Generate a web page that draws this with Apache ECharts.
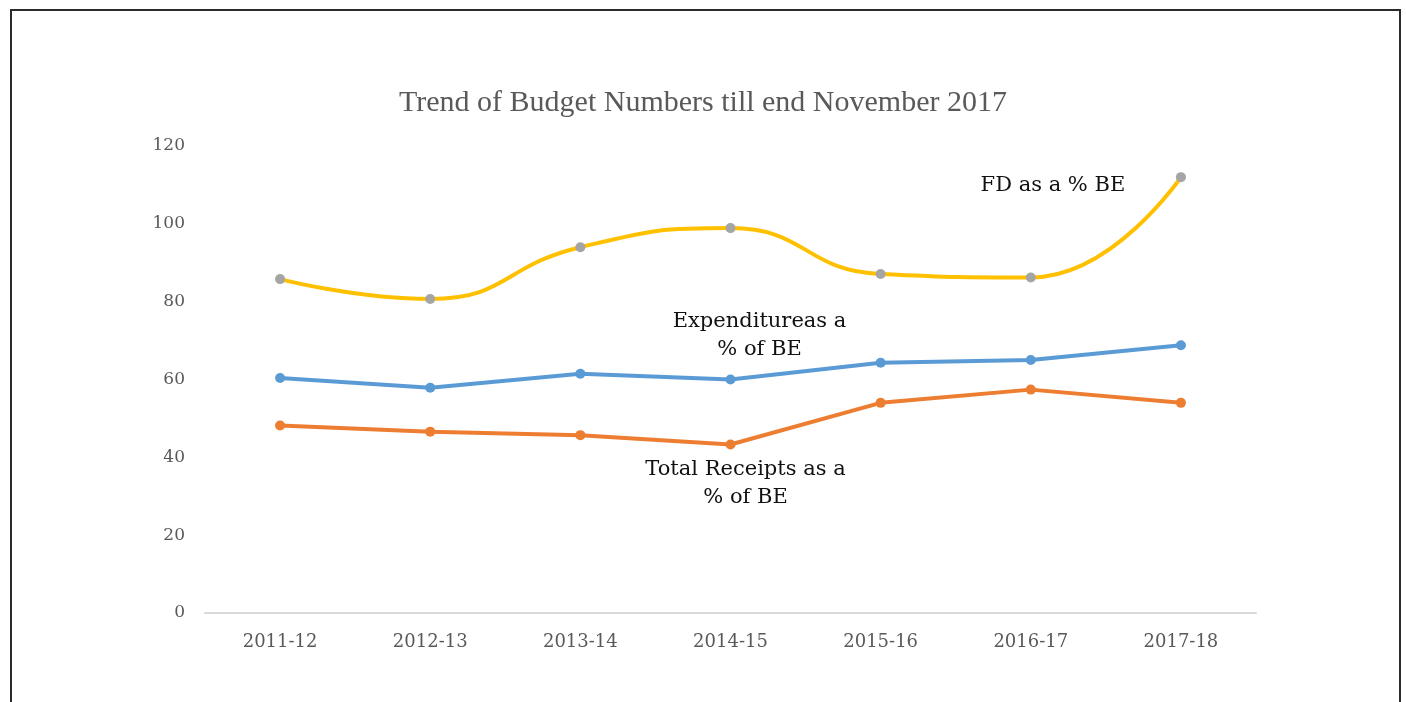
<!DOCTYPE html>
<html>
<head>
<meta charset="utf-8">
<script src="https://cdn.jsdelivr.net/npm/echarts@6/dist/echarts.min.js"></script>
<style>
  html, body { margin: 0; padding: 0; background: #fff; }
  #chart { width: 1406px; height: 702px; }
</style>
</head>
<body>
<div id="chart"></div>
<script>
  // data
  var years = ['2011-12', '2012-13', '2013-14', '2014-15', '2015-16', '2016-17', '2017-18'];
  var fdPct = [85.8, 80.7, 94.0, 98.9, 87.1, 86.2, 112.0];
  var expPct = [60.4, 57.9, 61.5, 60.0, 64.3, 65.0, 68.8];
  var recPct = [48.2, 46.6, 45.7, 43.3, 54.0, 57.4, 54.0];
  var yTicks = [0, 20, 40, 60, 80, 100, 120];

  var labelFont = 'DejaVu Serif';
  var axisFont = 'DejaVu Serif';
  var titleFont = 'Liberation Serif';

  // put a text label on one point of a series
  function withLabel(values, idx, label) {
    return values.map(function (v, i) {
      if (i !== idx) return v;
      return { value: v, label: Object.assign({
        show: true,
        color: '#111',
        fontFamily: labelFont,
        fontSize: 21,
        lineHeight: 28,
        align: 'center'
      }, label) };
    });
  }

  var myChart = echarts.init(document.getElementById('chart'));
  var option = {
    backgroundColor: '#fff',
    animation: false,
    title: {
      text: 'Trend of Budget Numbers till end November 2017',
      left: 'center',
      top: 83,
      textStyle: {
        color: '#595959',
        fontFamily: titleFont,
        fontWeight: 'normal',
        fontSize: 30
      }
    },
    graphic: [{
      type: 'rect',
      shape: { x: 11, y: 10, width: 1389, height: 720 },
      style: { fill: 'none', stroke: '#2b2b2b', lineWidth: 2 },
      silent: true
    }],
    grid: {
      left: 205,
      right: 150,
      top: 146,
      bottom: 89
    },
    xAxis: {
      type: 'category',
      data: years,
      boundaryGap: true,
      axisLine: { lineStyle: { color: '#d9d9d9', width: 2 } },
      axisTick: { show: false },
      axisLabel: {
        color: '#595959',
        fontFamily: axisFont,
        fontSize: 18,
        margin: 20
      }
    },
    yAxis: {
      type: 'value',
      min: yTicks[0],
      max: yTicks[yTicks.length - 1],
      interval: 20,
      axisLine: { show: false },
      axisTick: { show: false },
      splitLine: { show: false },
      axisLabel: {
        color: '#595959',
        fontFamily: axisFont,
        fontSize: 17,
        margin: 20
      }
    },
    series: [
      {
        name: 'FD as a % BE',
        type: 'line',
        smooth: 0.5,
        data: withLabel(fdPct, 6, {
          position: 'left',
          offset: [-118, 8],
          formatter: 'FD as a % BE'
        }),
        symbol: 'circle',
        symbolSize: 10,
        lineStyle: { color: '#FFC000', width: 4 },
        itemStyle: { color: '#A5A5A5' },
        z: 3
      },
      {
        name: 'Expenditure as a % of BE',
        type: 'line',
        data: withLabel(expPct, 3, {
          position: 'top',
          offset: [29, -6],
          formatter: 'Expenditureas a\n% of BE'
        }),
        symbol: 'circle',
        symbolSize: 10,
        lineStyle: { color: '#5B9BD5', width: 4 },
        itemStyle: { color: '#5B9BD5' },
        z: 2
      },
      {
        name: 'Total Receipts as a % of BE',
        type: 'line',
        data: withLabel(recPct, 3, {
          position: 'bottom',
          offset: [15, 1],
          formatter: 'Total Receipts as a\n% of BE'
        }),
        symbol: 'circle',
        symbolSize: 10,
        lineStyle: { color: '#ED7D31', width: 4 },
        itemStyle: { color: '#ED7D31' },
        z: 2
      }
    ]
  };
  myChart.setOption(option);
</script>
</body>
</html>
